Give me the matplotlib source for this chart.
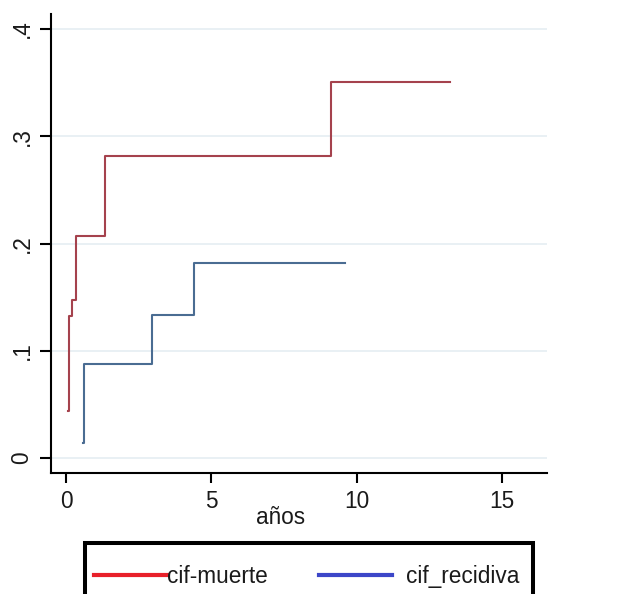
import numpy as np
import matplotlib
matplotlib.use("Agg")
import matplotlib.pyplot as plt
from matplotlib.lines import Line2D
from matplotlib.patches import Rectangle

# cumulative incidence
t_muerte = [0.07, 0.085, 0.20, 0.34, 1.34, 9.10, 13.20]
cif_muerte = [0.044, 0.132, 0.147, 0.207, 0.282, 0.351, 0.351]

t_recidiva = [0.59, 0.60, 2.95, 4.40, 9.60]
cif_recidiva = [0.014, 0.088, 0.133, 0.182, 0.182]

xticks = [0, 5, 10, 15]
yticks = [0, 0.1, 0.2, 0.3, 0.4]
ytick_labels = ["0", ".1", ".2", ".3", ".4"]

plt.rcParams['font.family'] = ['Liberation Sans', 'DejaVu Sans']
fs = 16.3
px = fs * 100 / 72  # font size in pixels
txt = '#1a1a1a'

fig = plt.figure(figsize=(6.27, 5.94), dpi=100)
ax = fig.add_axes([0.0813, 0.2037, 0.7911, 0.7727])

ax.plot(t_muerte, cif_muerte, drawstyle='steps-post', color='#a5424d', lw=1.5)
ax.plot(t_recidiva, cif_recidiva, drawstyle='steps-post', color='#4a6c92', lw=1.5)

ax.set_xlim(-0.52, 16.55)
ax.set_ylim(-0.014, 0.414)
ax.set_xticks(xticks)
ax.set_yticks(yticks)
ax.set_yticklabels(ytick_labels)

for y in yticks:
    ax.axhline(y, color='#e5eef2', lw=1.2, zorder=0)

ax.spines['top'].set_visible(False)
ax.spines['right'].set_visible(False)
for s in ['left', 'bottom']:
    ax.spines[s].set_linewidth(1.5)

ax.tick_params(axis='x', length=7, width=1.5, pad=5, labelsize=fs, labelcolor=txt)
ax.tick_params(axis='y', length=8, width=1.5, pad=4.5, labelsize=fs, labelrotation=90,
               labelcolor=txt)
for lab in ax.get_yticklabels():
    lab.set_va('center')

ax.set_xlabel("años", fontsize=fs, color=txt)
ax.xaxis.set_label_coords(0.462, -0.096)
ax.xaxis.label.set_va('center')

# legend box (cut off at the bottom like the screenshot)
fig.patches.append(Rectangle((0.1356, -0.05), 0.7137, 0.1364, transform=fig.transFigure,
                             fill=False, ec='black', lw=2.9, clip_on=False))

h1 = Line2D([], [], color='#e8202a', lw=3)
h2 = Line2D([], [], color='#3c46c8', lw=3)
fig.legend([h1], ["cif-muerte"], loc='center left', bbox_to_anchor=(0.1499, 0.0303),
           frameon=False, fontsize=fs, handlelength=73 / px, handletextpad=0.0,
           borderpad=0, borderaxespad=0, labelcolor=txt)
fig.legend([h2], ["cif_recidiva"], loc='center left', bbox_to_anchor=(0.5088, 0.0303),
           frameon=False, fontsize=fs, handlelength=73 / px, handletextpad=0.6,
           borderpad=0, borderaxespad=0, labelcolor=txt)

fig.savefig("out.png", dpi=100)
